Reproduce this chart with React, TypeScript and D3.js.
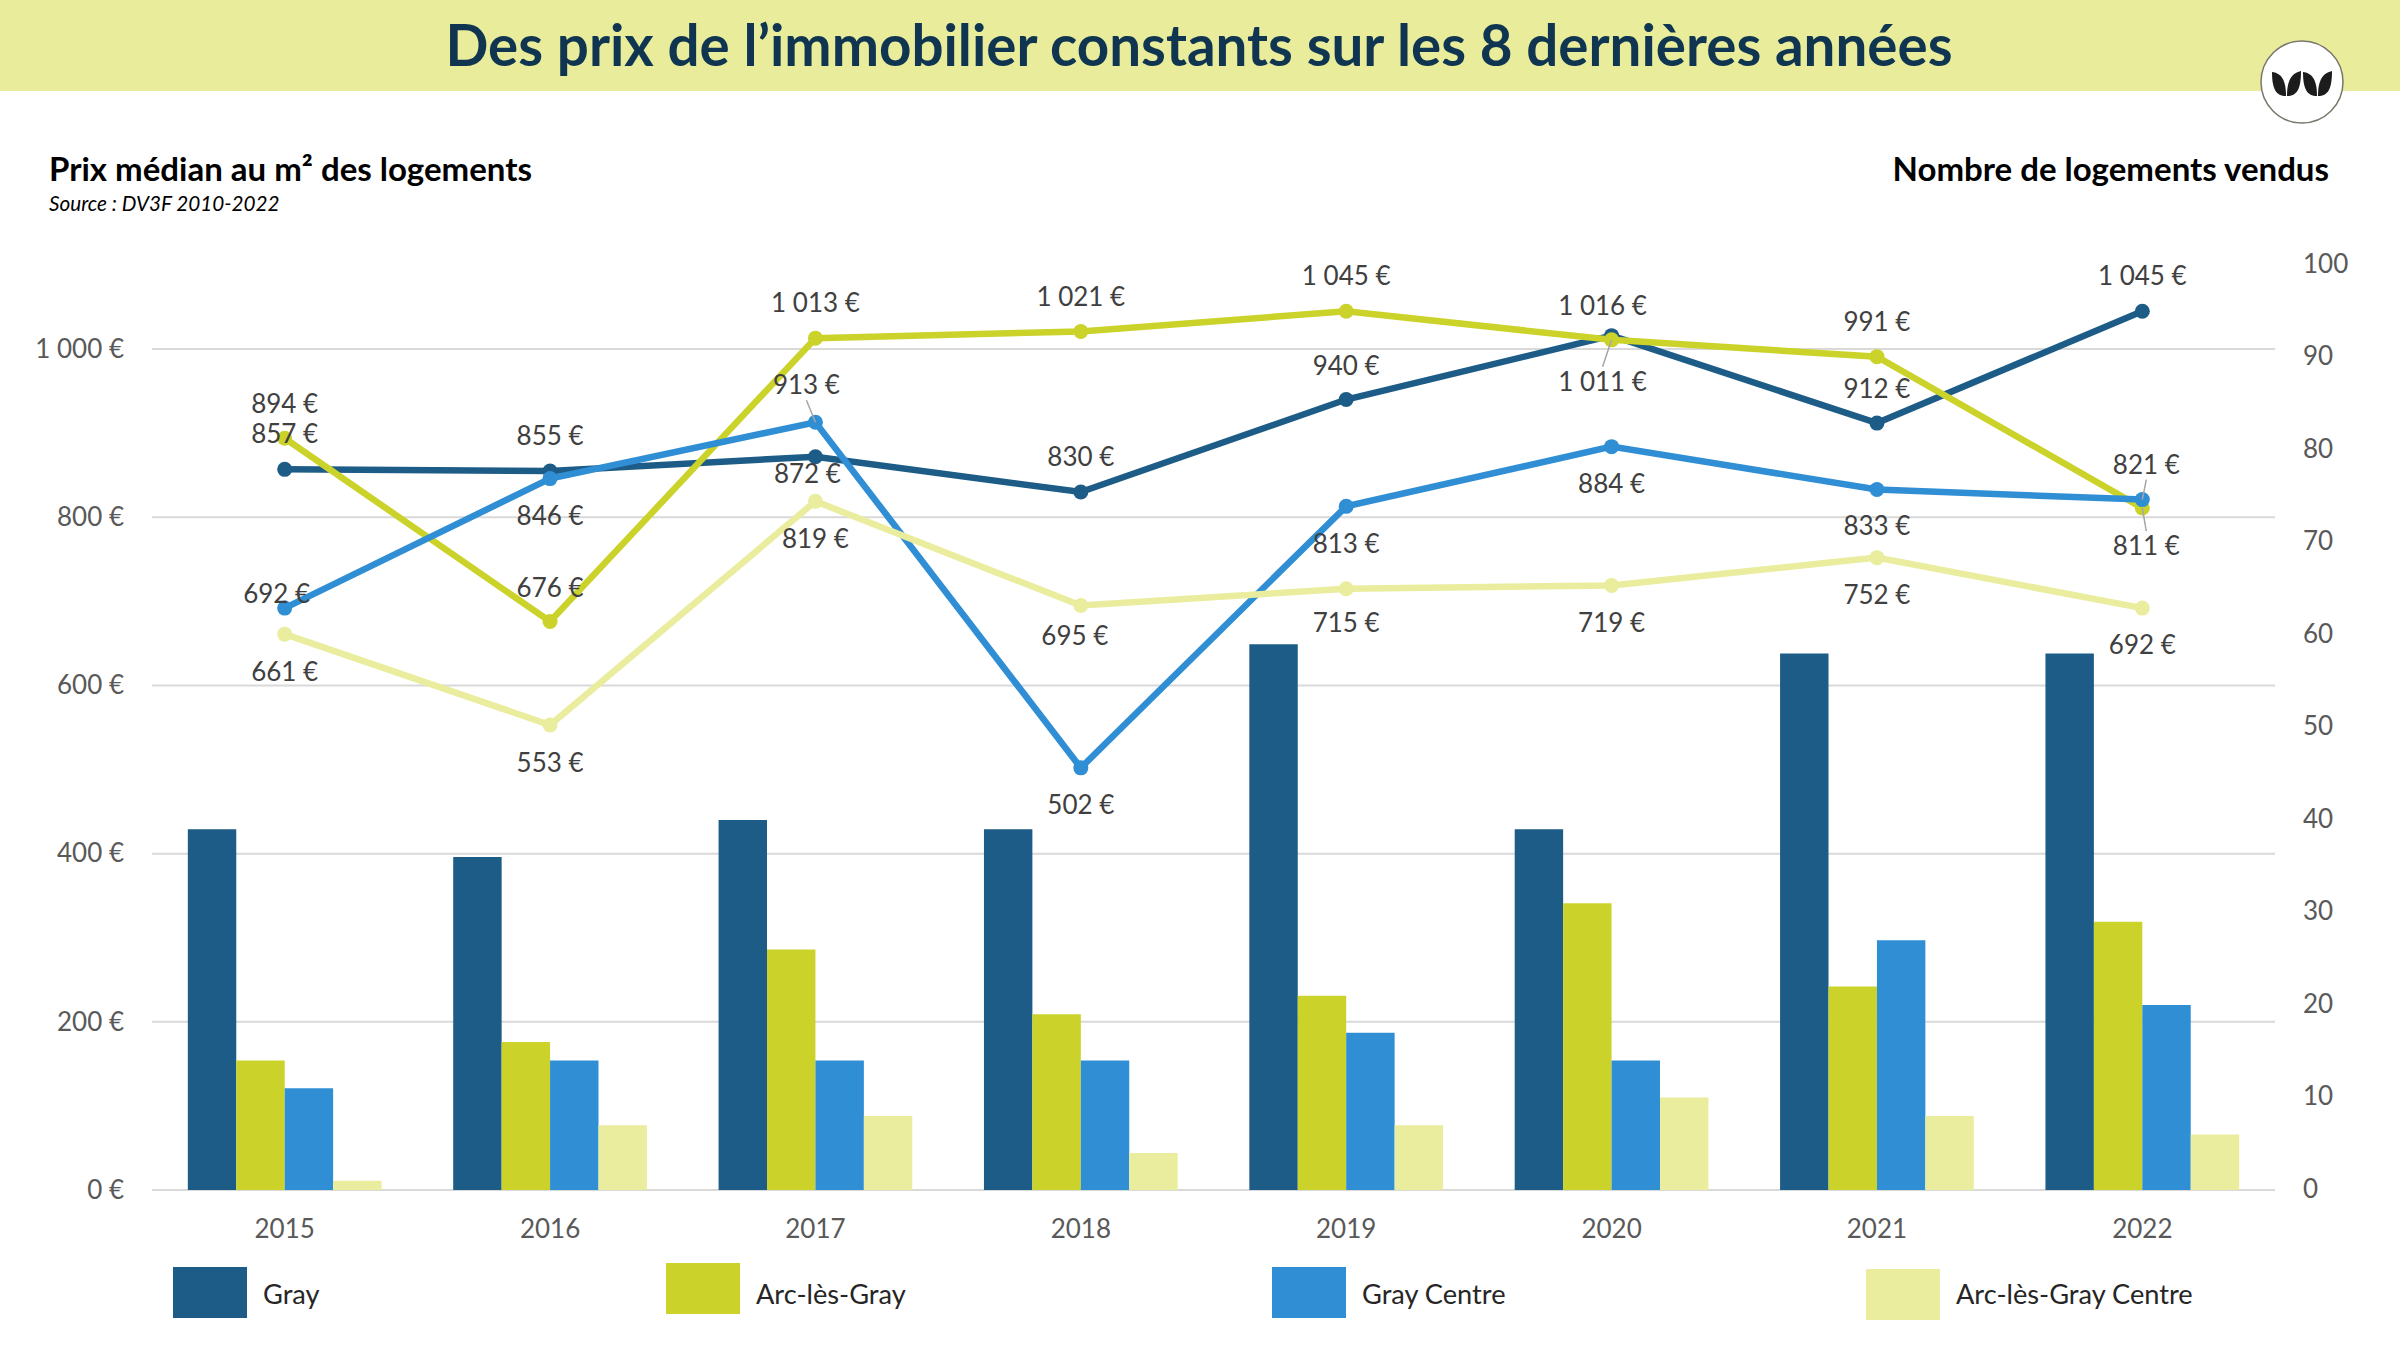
import { useEffect, useRef } from "react";
import * as d3 from "d3";

const years = ["2015", "2016", "2017", "2018", "2019", "2020", "2021", "2022"];
const seriesNames = ["Gray", "Arc-lès-Gray", "Gray Centre", "Arc-lès-Gray Centre"];
const seriesColors = ["#1d5c87", "#cbd32a", "#308fd4", "#e9ed9d"];

// prix médian au m2
const priceGray = [857, 855, 872, 830, 940, 1016, 912, 1045];
const priceArc = [894, 676, 1013, 1021, 1045, 1011, 991, 811];
const priceGrayCentre = [692, 846, 913, 502, 813, 884, 833, 821];
const priceArcCentre = [661, 553, 819, 695, 715, 719, 752, 692];

// nombre de logements vendus
const salesGray = [39, 36, 40, 39, 59, 39, 58, 58];
const salesArc = [14, 16, 26, 19, 21, 31, 22, 29];
const salesGrayCentre = [11, 14, 14, 14, 17, 14, 27, 20];
const salesArcCentre = [1, 7, 8, 4, 7, 10, 8, 6];

const priceTicks = [0, 200, 400, 600, 800, 1000];
const salesTicks = [0, 10, 20, 30, 40, 50, 60, 70, 80, 90, 100];

// label offsets from their point, [dx, dy], in px
const labelOffsetsGray = [[0, -35], [0, -35], [-8, 17], [0, -35], [0, -34], [-9, -30], [0, -34], [0, -35]];
const labelOffsetsArc = [[0, -34], [0, -34], [0, -35], [0, -35], [0, -35], [-9, 42], [0, -35], [4, 38]];
const labelOffsetsGrayCentre = [[-8, -14], [0, 37], [-9, -37], [0, 37], [0, 38], [0, 37], [0, 36], [4, -35]];
const labelOffsetsArcCentre = [[0, 38], [0, 38], [0, 38], [-6, 30], [0, 34], [0, 38], [0, 37], [0, 37]];

// labels moved away from their point get a thin leader line
const leaderLines = [
  { series: 1, year: 5 },
  { series: 1, year: 7 },
  { series: 2, year: 2 },
  { series: 2, year: 7 },
];

const legendX = [173, 666, 1272, 1866];
const legendY = [1267, 1263, 1267, 1269];

export default function App() {
  const ref = useRef<SVGSVGElement>(null);

  useEffect(() => {
    if (!ref.current) return;
    const svg = d3.select(ref.current);
    svg.selectAll("*").remove();

    const width = 2400;
    const height = 1350;
    const font = "Lato, 'Open Sans', sans-serif";
    const margin = { top: 265, right: 125, bottom: 160, left: 152 };

    const prices = [priceGray, priceArc, priceGrayCentre, priceArcCentre];
    const sales = [salesGray, salesArc, salesGrayCentre, salesArcCentre];
    const offsets = [labelOffsetsGray, labelOffsetsArc, labelOffsetsGrayCentre, labelOffsetsArcCentre];

    const x = d3
      .scaleBand()
      .domain(years)
      .range([margin.left, width - margin.right])
      .paddingInner(0.27)
      .paddingOuter(0.135);
    const xSeries = d3.scaleBand().domain(seriesNames).range([0, x.bandwidth()]);
    const center = (year: string) => x(year)! + x.bandwidth() / 2;

    const yPrice = d3.scaleLinear().domain([0, 1100]).range([height - margin.bottom, margin.top]);
    const ySales = d3.scaleLinear().domain([0, 100]).range([height - margin.bottom, margin.top]);

    const euro = d3.formatLocale({
      decimal: ",",
      thousands: " ",
      grouping: [3],
      currency: ["", " €"],
    }).format("$,");

    // Header
    svg.append("rect").attr("width", width).attr("height", 91).attr("fill", "#e9ec9b");
    svg
      .append("text")
      .attr("x", 1199)
      .attr("y", 46)
      .attr("dy", "0.35em")
      .attr("text-anchor", "middle")
      .attr("font-size", 56.5)
      .attr("font-weight", 700)
      .attr("fill", "#0f3550")
      .text("Des prix de l’immobilier constants sur les 8 dernières années");

    // Logo
    const logo = svg.append("g").attr("transform", "translate(2302,82)");
    logo.append("circle").attr("r", 41).attr("fill", "#fff").attr("stroke", "#77776c").attr("stroke-width", 1.5);
    [-30, -15, 1, 16].forEach((dx, i) => {
      const d =
        i % 2 === 0
          ? "M0,-10 C8,-9 14,-4 14,14 C4,14 0,7 0,-10 Z"
          : "M14,-11 C6,-9 0,-4 0,14 C10,14 14,7 14,-11 Z";
      logo.append("path").attr("d", d).attr("transform", `translate(${dx},0)`).attr("fill", "#1c1c1c");
    });

    svg
      .append("text")
      .attr("x", 49)
      .attr("y", 169)
      .attr("dy", "0.35em")
      .attr("font-size", 33)
      .attr("font-weight", 700)
      .attr("fill", "#000")
      .text("Prix médian au m² des logements");
    svg
      .append("text")
      .attr("x", 49)
      .attr("y", 204)
      .attr("dy", "0.35em")
      .attr("font-size", 20.7)
      .attr("font-style", "italic")
      .attr("fill", "#000")
      .text("Source : DV3F 2010-2022");
    svg
      .append("text")
      .attr("x", 2329)
      .attr("y", 169)
      .attr("dy", "0.35em")
      .attr("text-anchor", "end")
      .attr("font-size", 33)
      .attr("font-weight", 700)
      .attr("fill", "#000")
      .text("Nombre de logements vendus");

    // Grid
    svg
      .append("g")
      .selectAll("line")
      .data(priceTicks)
      .enter()
      .append("line")
      .attr("x1", margin.left)
      .attr("x2", width - margin.right)
      .attr("y1", (d) => yPrice(d))
      .attr("y2", (d) => yPrice(d))
      .attr("stroke", "#d9d9d9")
      .attr("stroke-width", 2);

    // Axes
    const styleAxis = (g: d3.Selection<SVGGElement, unknown, null, undefined>) => {
      g.select(".domain").remove();
      g.selectAll("text").attr("font-size", 26).attr("font-family", font).attr("fill", "#595959");
    };
    svg
      .append("g")
      .attr("transform", "translate(124,0)")
      .call(d3.axisLeft(yPrice).tickValues(priceTicks).tickSize(0).tickPadding(0).tickFormat((d) => euro(d as number)))
      .call(styleAxis);
    svg
      .append("g")
      .attr("transform", "translate(2303,-1)")
      .call(d3.axisRight(ySales).tickValues(salesTicks).tickSize(0).tickPadding(0))
      .call(styleAxis);
    svg
      .append("g")
      .attr("transform", "translate(0,1220)")
      .call(d3.axisBottom(x).tickSize(0).tickPadding(0))
      .call(styleAxis);

    // Bars
    sales.forEach((values, s) => {
      svg
        .append("g")
        .selectAll("rect")
        .data(values)
        .enter()
        .append("rect")
        .attr("x", (_, i) => x(years[i])! + xSeries(seriesNames[s])!)
        .attr("y", (d) => ySales(d))
        .attr("width", xSeries.bandwidth())
        .attr("height", (d) => ySales(0) - ySales(d))
        .attr("fill", seriesColors[s]);
    });

    // Lines
    const line = d3
      .line<number>()
      .x((_, i) => center(years[i]))
      .y((d) => yPrice(d));

    prices.forEach((values, s) => {
      svg
        .append("path")
        .datum(values)
        .attr("fill", "none")
        .attr("stroke", seriesColors[s])
        .attr("stroke-width", 6.5)
        .attr("d", line);
      svg
        .append("g")
        .selectAll("circle")
        .data(values)
        .enter()
        .append("circle")
        .attr("cx", (_, i) => center(years[i]))
        .attr("cy", (d) => yPrice(d))
        .attr("r", 7.5)
        .attr("fill", seriesColors[s]);
    });

    // Leader lines
    leaderLines.forEach(({ series, year }) => {
      const [dx, dy] = offsets[series][year];
      const px = center(years[year]);
      const py = yPrice(prices[series][year]);
      svg
        .append("line")
        .attr("x1", px)
        .attr("y1", py)
        .attr("x2", px + dx)
        .attr("y2", py + dy + (dy > 0 ? -15 : 15))
        .attr("stroke", "#a6a6a6")
        .attr("stroke-width", 1.5);
    });

    // Value labels
    prices.forEach((values, s) => {
      svg
        .append("g")
        .selectAll("text")
        .data(values)
        .enter()
        .append("text")
        .attr("x", (_, i) => center(years[i]) + offsets[s][i][0])
        .attr("y", (d, i) => yPrice(d) + offsets[s][i][1])
        .attr("dy", "0.35em")
        .attr("text-anchor", "middle")
        .attr("font-size", 26)
        .attr("fill", "#404040")
        .text((d) => euro(d));
    });

    // Legend
    const legend = svg
      .append("g")
      .selectAll("g")
      .data(seriesNames)
      .enter()
      .append("g")
      .attr("transform", (_, i) => `translate(${legendX[i]},${legendY[i]})`);
    legend.append("rect").attr("width", 74).attr("height", 51).attr("fill", (_, i) => seriesColors[i]);
    legend
      .append("text")
      .attr("x", 90)
      .attr("y", (_, i) => 1294 - legendY[i])
      .attr("dy", "0.35em")
      .attr("font-size", 27.2)
      .attr("fill", "#262626")
      .text((d) => d);

    svg.attr("font-family", font);
  }, []);

  return (
    <svg
      ref={ref}
      width={2400}
      height={1350}
      style={{ position: "absolute", left: 0, top: 0, background: "#fff" }}
    />
  );
}
